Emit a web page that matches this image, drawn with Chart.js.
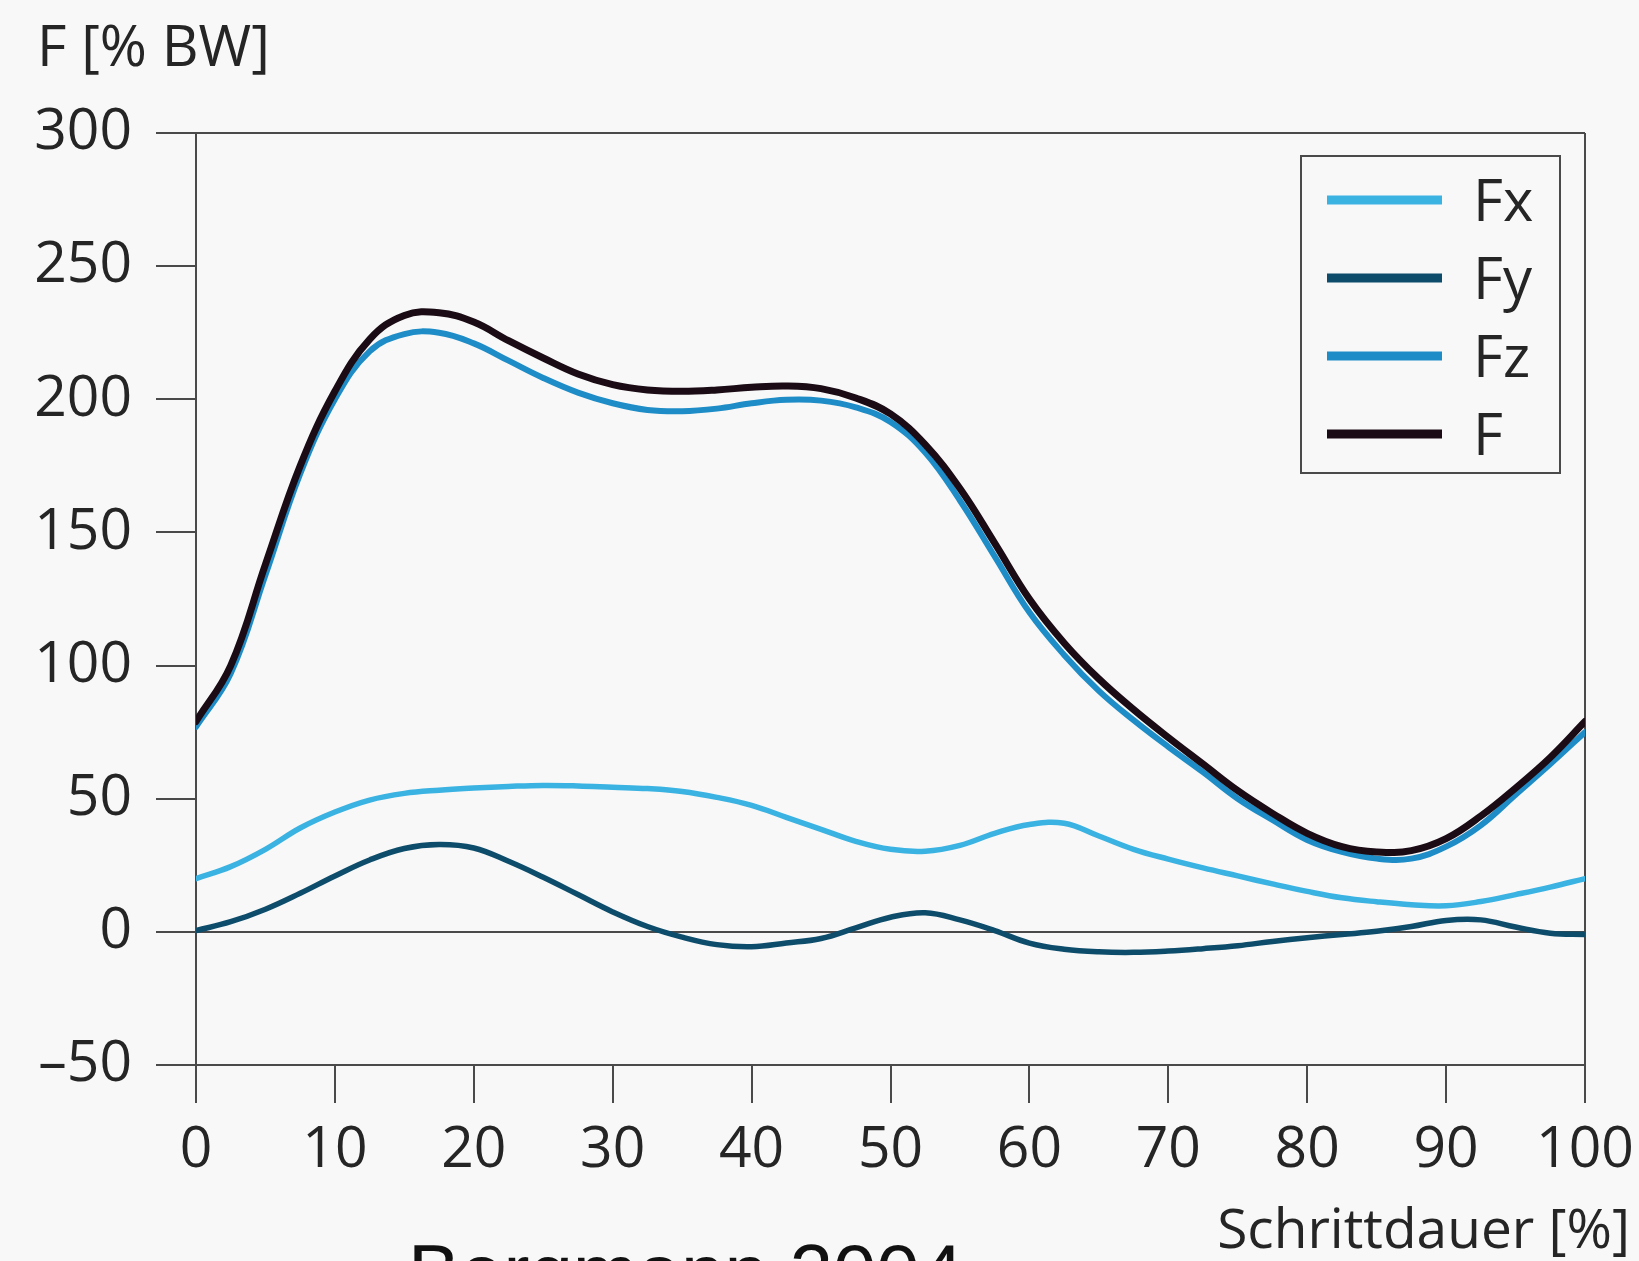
<!DOCTYPE html>
<html>
<head>
<meta charset="utf-8">
<script src="https://cdn.jsdelivr.net/npm/chart.js@4.4.0/dist/chart.umd.min.js"></script>
<style>
  html, body { margin: 0; padding: 0; background: #f8f8f8; }
  #wrap { width: 1639px; height: 1261px; }
</style>
</head>
<body>
<div id="wrap"><canvas id="forces" width="1639" height="1261"></canvas></div>
<script>
// Schrittdauer in %
const schritt = [0, 2.5, 5, 7.5, 10, 12.5, 15, 17.5, 20, 22.5, 25, 27.5, 30, 32.5, 35, 37.5, 40, 42.5, 45, 47.5,
  50, 52.5, 55, 57.5, 60, 62.5, 65, 67.5, 70, 72.5, 75, 77.5, 80, 82.5, 85, 87.5, 90, 92.5, 95, 97.5, 100];

// forces in % body weight
const fx = [20, 24.5, 31, 39, 45, 49.5, 52, 53.2, 54, 54.6, 55, 54.8, 54.3, 53.8, 52.7, 50.5, 47.5, 43, 38.5, 34,
  31, 30.3, 32.5, 37, 40.3, 40.8, 36, 31, 27.3, 24, 21, 18, 15.2, 12.8, 11.3, 10.2, 9.8, 11.4, 14, 16.8, 20];
const fy = [0.5, 3.8, 8.5, 14.5, 21, 27, 31.3, 32.8, 31.5, 26.5, 20.5, 14, 7.5, 2, -2, -4.8, -5.6, -4.2, -2.5, 1.5,
  5.5, 7.2, 4.5, 0.5, -4.2, -6.5, -7.5, -7.7, -7.2, -6.3, -5.2, -3.6, -2.2, -1, 0.2, 2, 4.3, 4.5, 1.8, -0.5, -1];
const fz = [77, 97, 134, 172, 200, 218, 224.5, 225, 221, 214.5, 208, 202.5, 198.5, 196, 195.5, 196.5, 198.5, 199.8, 199.5, 197,
  191.5, 180, 162, 141, 120, 104, 90.5, 79.5, 69.5, 60, 50, 42, 34.5, 30, 27.5, 27.5, 32, 40, 51.5, 63, 75];
const fRes = [79, 100, 138, 175, 203, 222.5, 231.5, 232.5, 229, 222, 215.5, 209.5, 205.5, 203.5, 203, 203.5, 204.5, 205, 204, 200.5,
  194.5, 183, 166.5, 146, 125, 108.5, 95, 83.5, 73, 63, 53, 44.5, 37, 32, 30, 30.5, 35, 43.5, 54, 65.5, 79];

const xTicks = [0, 10, 20, 30, 40, 50, 60, 70, 80, 90, 100];
const yTicks = [-50, 0, 50, 100, 150, 200, 250, 300];

const axisGray = '#4a4a4a';
const textColor = '#252525';
const none = 'rgba(0,0,0,0)';
const labelFont = { family: 'Open Sans', size: 57 };

const toPoints = vals => vals.map((v, i) => ({ x: schritt[i], y: v }));

// order: F drawn on top
const datasets = [
  { label: 'Fx', data: toPoints(fx), borderColor: '#3ab2e2', borderWidth: 5.5, order: 3 },
  { label: 'Fy', data: toPoints(fy), borderColor: '#0d4d6b', borderWidth: 5.5, order: 2 },
  { label: 'Fz', data: toPoints(fz), borderColor: '#1e8cc6', borderWidth: 6, order: 1 },
  { label: 'F', data: toPoints(fRes), borderColor: '#1a0b14', borderWidth: 7, order: 0 }
];

const decor = {
  id: 'decor',
  beforeDraw(chart) {
    const ctx = chart.ctx;
    ctx.save();
    ctx.fillStyle = '#f8f8f8';
    ctx.fillRect(0, 0, chart.width, chart.height);
    ctx.restore();
  },
  afterDraw(chart) {
    const { ctx, chartArea } = chart;
    ctx.save();
    ctx.fillStyle = textColor;
    ctx.font = '57px "Open Sans"';
    ctx.textBaseline = 'alphabetic';
    ctx.textAlign = 'left';
    ctx.fillText('F [% BW]', 37, 66);
    ctx.font = '55px "Open Sans"';
    ctx.textAlign = 'right';
    ctx.fillText('Schrittdauer [%]', 1630, 1248);

    ctx.textAlign = 'left';
    ctx.fillStyle = '#111';
    ctx.font = '78px "Liberation Sans"';
    ctx.fillText('Bergmann 2004', 408, 1299);

    // legend box top right inside the plot
    const left = chartArea.right - 284, top = chartArea.top + 23;
    ctx.strokeStyle = axisGray;
    ctx.lineWidth = 2;
    ctx.strokeRect(left, top, 259, 317);
    ctx.font = '58px "Open Sans"';
    chart.data.datasets.forEach((ds, i) => {
      const y = top + 44 + i * 78;
      ctx.strokeStyle = ds.borderColor;
      ctx.lineWidth = 9;
      ctx.beginPath();
      ctx.moveTo(left + 26, y);
      ctx.lineTo(left + 141, y);
      ctx.stroke();
      ctx.fillStyle = textColor;
      ctx.fillText(ds.label, left + 172, y + 21);
    });
    ctx.restore();
  }
};

new Chart(document.getElementById('forces'), {
  type: 'line',
  data: { datasets },
  plugins: [decor],
  options: {
    responsive: false,
    animation: false,
    devicePixelRatio: 1,
    layout: { padding: { top: 133, right: 54, left: 0, bottom: 0 } },
    elements: {
      point: { radius: 0 },
      line: { tension: 0.4, fill: false, borderCapStyle: 'round' }
    },
    plugins: { legend: { display: false }, tooltip: { enabled: false } },
    scales: {
      x: {
        type: 'linear',
        min: 0,
        max: 100,
        afterBuildTicks: s => { s.ticks = xTicks.map(v => ({ value: v })); },
        afterFit: s => { s.height = 196; s.paddingLeft = 0; s.paddingRight = 0; },
        border: { display: true, color: axisGray, width: 2 },
        grid: {
          color: c => (c.tick && (c.tick.value === 0 || c.tick.value === 100)) ? axisGray : none,
          lineWidth: 2,
          tickLength: 38,
          tickColor: axisGray
        },
        ticks: { color: textColor, font: labelFont, padding: 14, maxRotation: 0, autoSkip: false }
      },
      y: {
        min: -50,
        max: 300,
        afterBuildTicks: s => { s.ticks = yTicks.map(v => ({ value: v })); },
        afterFit: s => { s.width = 196; },
        border: { display: true, color: axisGray, width: 2 },
        grid: {
          color: c => (c.tick && [-50, 0, 300].includes(c.tick.value)) ? axisGray : none,
          lineWidth: 2,
          tickLength: 40,
          tickColor: axisGray
        },
        ticks: {
          color: textColor,
          font: labelFont,
          padding: 24,
          callback: v => v < 0 ? '\u2013' + Math.abs(v) : String(v)
        }
      }
    }
  }
});
</script>
</body>
</html>
